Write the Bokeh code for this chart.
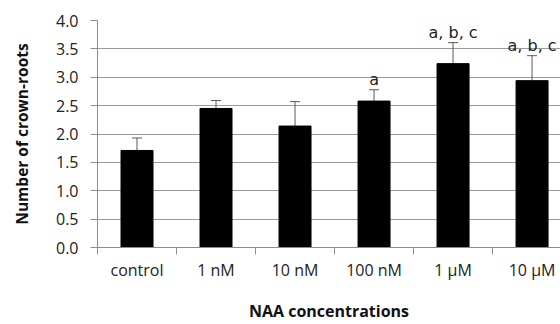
from bokeh.plotting import figure
from bokeh.models import Range1d, FixedTicker, ColumnDataSource, TeeHead, Whisker, PrintfTickFormatter
from bokeh.core.properties import value
from bokeh.embed import file_html
from bokeh.resources import INLINE

categories = ["control", "1 nM", "10 nM", "100 nM", "1 \u00b5M", "10 \u00b5M"]
means = [1.71, 2.45, 2.14, 2.58, 3.24, 2.94]
errors = [0.22, 0.14, 0.43, 0.20, 0.37, 0.44]
letters = ["", "", "", "a", "a, b, c", "a, b, c"]
y_ticks = [0.0, 0.5, 1.0, 1.5, 2.0, 2.5, 3.0, 3.5, 4.0]
x_title = "NAA concentrations"
y_title = "Number of crown-roots"

xs = [i + 0.5 for i in range(len(categories))]
uppers = [m + e for m, e in zip(means, errors)]
src = ColumnDataSource(dict(x=xs, top=means, upper=uppers, label=letters))

FONT = "Open Sans"
p = figure(width=560, height=324, output_backend="svg", toolbar_location=None,
           x_range=Range1d(0, 5.86), y_range=Range1d(0, 4.0),
           min_border_left=97, min_border_right=0, min_border_top=20, min_border_bottom=77)
p.outline_line_color = None
p.background_fill_color = "white"
p.border_fill_color = "white"

p.vbar(x="x", top="top", width=0.405, bottom=0, source=src, fill_color="black", line_color="black")
w = Whisker(base="x", lower="top", upper="upper", source=src, line_color="#595959", line_width=1,
            upper_head=TeeHead(size=10, line_color="#595959", line_width=1), lower_head=None)
p.add_layout(w)
p.text(x="x", y="upper", text="label", source=src, text_align="center", text_baseline="alphabetic",
       y_offset=-10, text_font=value("DejaVu Sans"), text_font_size="16px", text_color="#222222")

# x axis
p.xaxis.ticker = FixedTicker(ticks=xs, minor_ticks=list(range(len(categories) + 1)))
p.xaxis.major_label_overrides = {x: c for x, c in zip(xs, categories)}
p.xaxis.major_tick_line_color = None
p.xaxis.minor_tick_out = 7
p.xaxis.minor_tick_in = 0
p.xaxis.minor_tick_line_color = "#8c8c8c"
p.xaxis.axis_line_color = "#8c8c8c"
p.xaxis.major_label_text_font = FONT
p.xaxis.major_label_text_font_size = "16px"
p.xaxis.major_label_text_color = "#222222"
p.xaxis.major_label_standoff = 4
p.xaxis.axis_label = x_title
p.xaxis.axis_label_text_font = FONT
p.xaxis.axis_label_text_font_style = "bold"
p.xaxis.axis_label_text_font_size = "16px"
p.xaxis.axis_label_text_color = "#111111"
p.xaxis.axis_label_standoff = 16

# y axis
p.yaxis.ticker = FixedTicker(ticks=y_ticks)
p.yaxis.formatter = PrintfTickFormatter(format="%.1f")
p.yaxis.minor_tick_line_color = None
p.yaxis.major_tick_out = 7
p.yaxis.major_tick_in = 0
p.yaxis.major_tick_line_color = "#8c8c8c"
p.yaxis.axis_line_color = "#8c8c8c"
p.yaxis.major_label_text_font = FONT
p.yaxis.major_label_text_font_size = "16px"
p.yaxis.major_label_text_color = "#222222"
p.yaxis.major_label_standoff = 12
p.yaxis.axis_label = y_title
p.yaxis.axis_label_text_font = FONT
p.yaxis.axis_label_text_font_style = "bold"
p.yaxis.axis_label_text_font_size = "15.5px"
p.yaxis.axis_label_text_color = "#111111"
p.yaxis.axis_label_standoff = 20

p.xgrid.grid_line_color = None
p.ygrid.ticker = FixedTicker(ticks=y_ticks)
p.ygrid.grid_line_color = "#9a9a9a"
p.ygrid.grid_line_width = 1

open("out.html", "w").write(file_html(p, INLINE))
